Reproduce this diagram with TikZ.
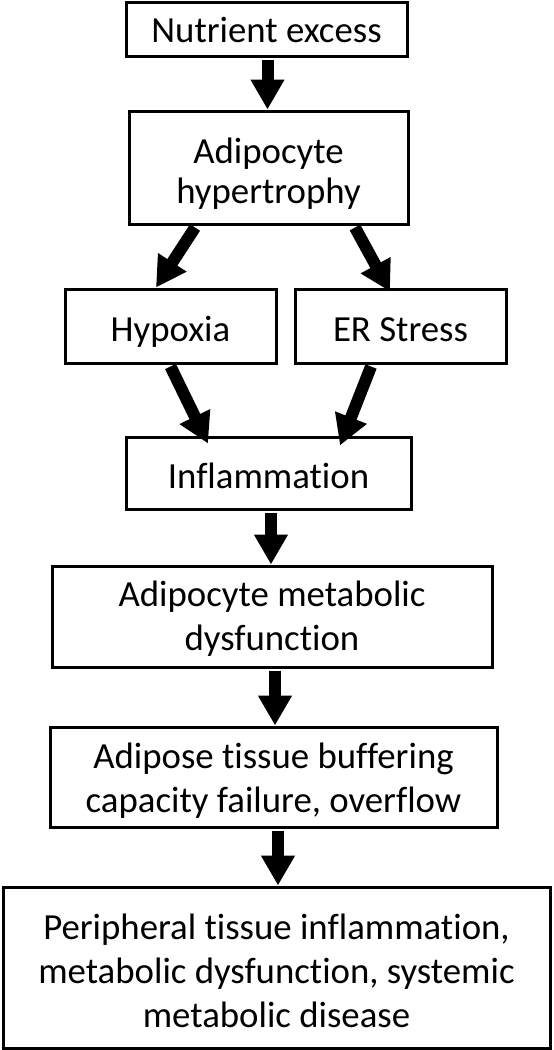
\documentclass[tikz,border=0pt]{standalone}
\usepackage{fontspec}
\setmainfont{Carlito}[Ligatures={NoCommon,NoRare}]
\usetikzlibrary{arrows.meta}

\tikzset{
  box/.style={draw, line width=1.5pt, align=center, inner sep=0pt, text height=15pt,
    font=\fontsize{18.4}{22}\selectfont},
  arr/.style={line width=6pt, -{Triangle[length=15pt,width=16pt]}}
}

\begin{document}
\begin{tikzpicture}[x=0.5pt, y=-0.5pt]
      \useasboundingbox (0, 0) rectangle (553, 1050);
      \node[box, text depth=2pt, minimum width=140.5pt, minimum height=27pt] (excess) at (266.5, 29){Nutrient excess};
      \node[box, text height=35.5pt, text depth=0pt, minimum width=139.5pt, minimum height=56.5pt, font=\fontsize{18.4}{20}\selectfont] (hypertrophy) at (268.5, 167.5){Adipocyte\\hypertrophy};
      \node[box, text depth=-1pt, minimum width=105.5pt, minimum height=37pt] (hypoxia) at (170.5, 326){Hypoxia};
      \node[box, text depth=-1pt, minimum width=105.5pt, minimum height=37pt] (er) at (400.5, 326){ER Stress};
      \node[box, text depth=0pt, minimum width=142.5pt, minimum height=36pt] (inflammation) at (268.5, 473){Inflammation};
      \node[box, text height=33.5pt, text depth=0pt, minimum width=220pt, minimum height=50.5pt] (dysfunction) at (272, 616.5){Adipocyte metabolic\\dysfunction};
      \node[box, text height=35pt, text depth=0pt, minimum width=223.5pt, minimum height=50pt] (overflow) at (273.5, 777){Adipose tissue buffering\\capacity failure, overflow};
      \node[box, text height=59.5pt, text depth=0pt, minimum width=273.5pt, minimum height=80.5pt] (disease) at (276.5, 967.5){Peripheral tissue inflammation,\\metabolic dysfunction, systemic\\metabolic disease};

      \draw[arr] ([shift={(0.5pt,-1pt)}]excess.south) -- ([xshift=0.5pt]excess.south |- hypertrophy.north);
      \draw[arr] ([shift={(-36.75pt,-1pt)}]hypertrophy.south) -- ([xshift=-7.25pt]hypoxia.north);
      \draw[arr] ([shift={(43.25pt,-1pt)}]hypertrophy.south) -- ([shift={(-5.25pt,-2pt)}]er.north);
      \draw[arr] ([yshift=-1pt]hypoxia.south) -- ([shift={(-30.25pt,-4pt)}]inflammation.north);
      \draw[arr] ([shift={(-14.75pt,-1pt)}]er.south) -- ([shift={(35.75pt,-5pt)}]inflammation.north);
      \draw[arr] ([shift={(1.25pt,-1pt)}]inflammation.south) -- ([xshift=1.25pt]inflammation.south |- dysfunction.north);
      \draw[arr] ([shift={(1.5pt,-1pt)}]dysfunction.south) -- ([xshift=1.5pt]dysfunction.south |- overflow.north);
      \draw[arr] ([shift={(2.25pt,-1pt)}]overflow.south) -- ([xshift=2.25pt]overflow.south |- disease.north);
    \end{tikzpicture}
\end{document}
